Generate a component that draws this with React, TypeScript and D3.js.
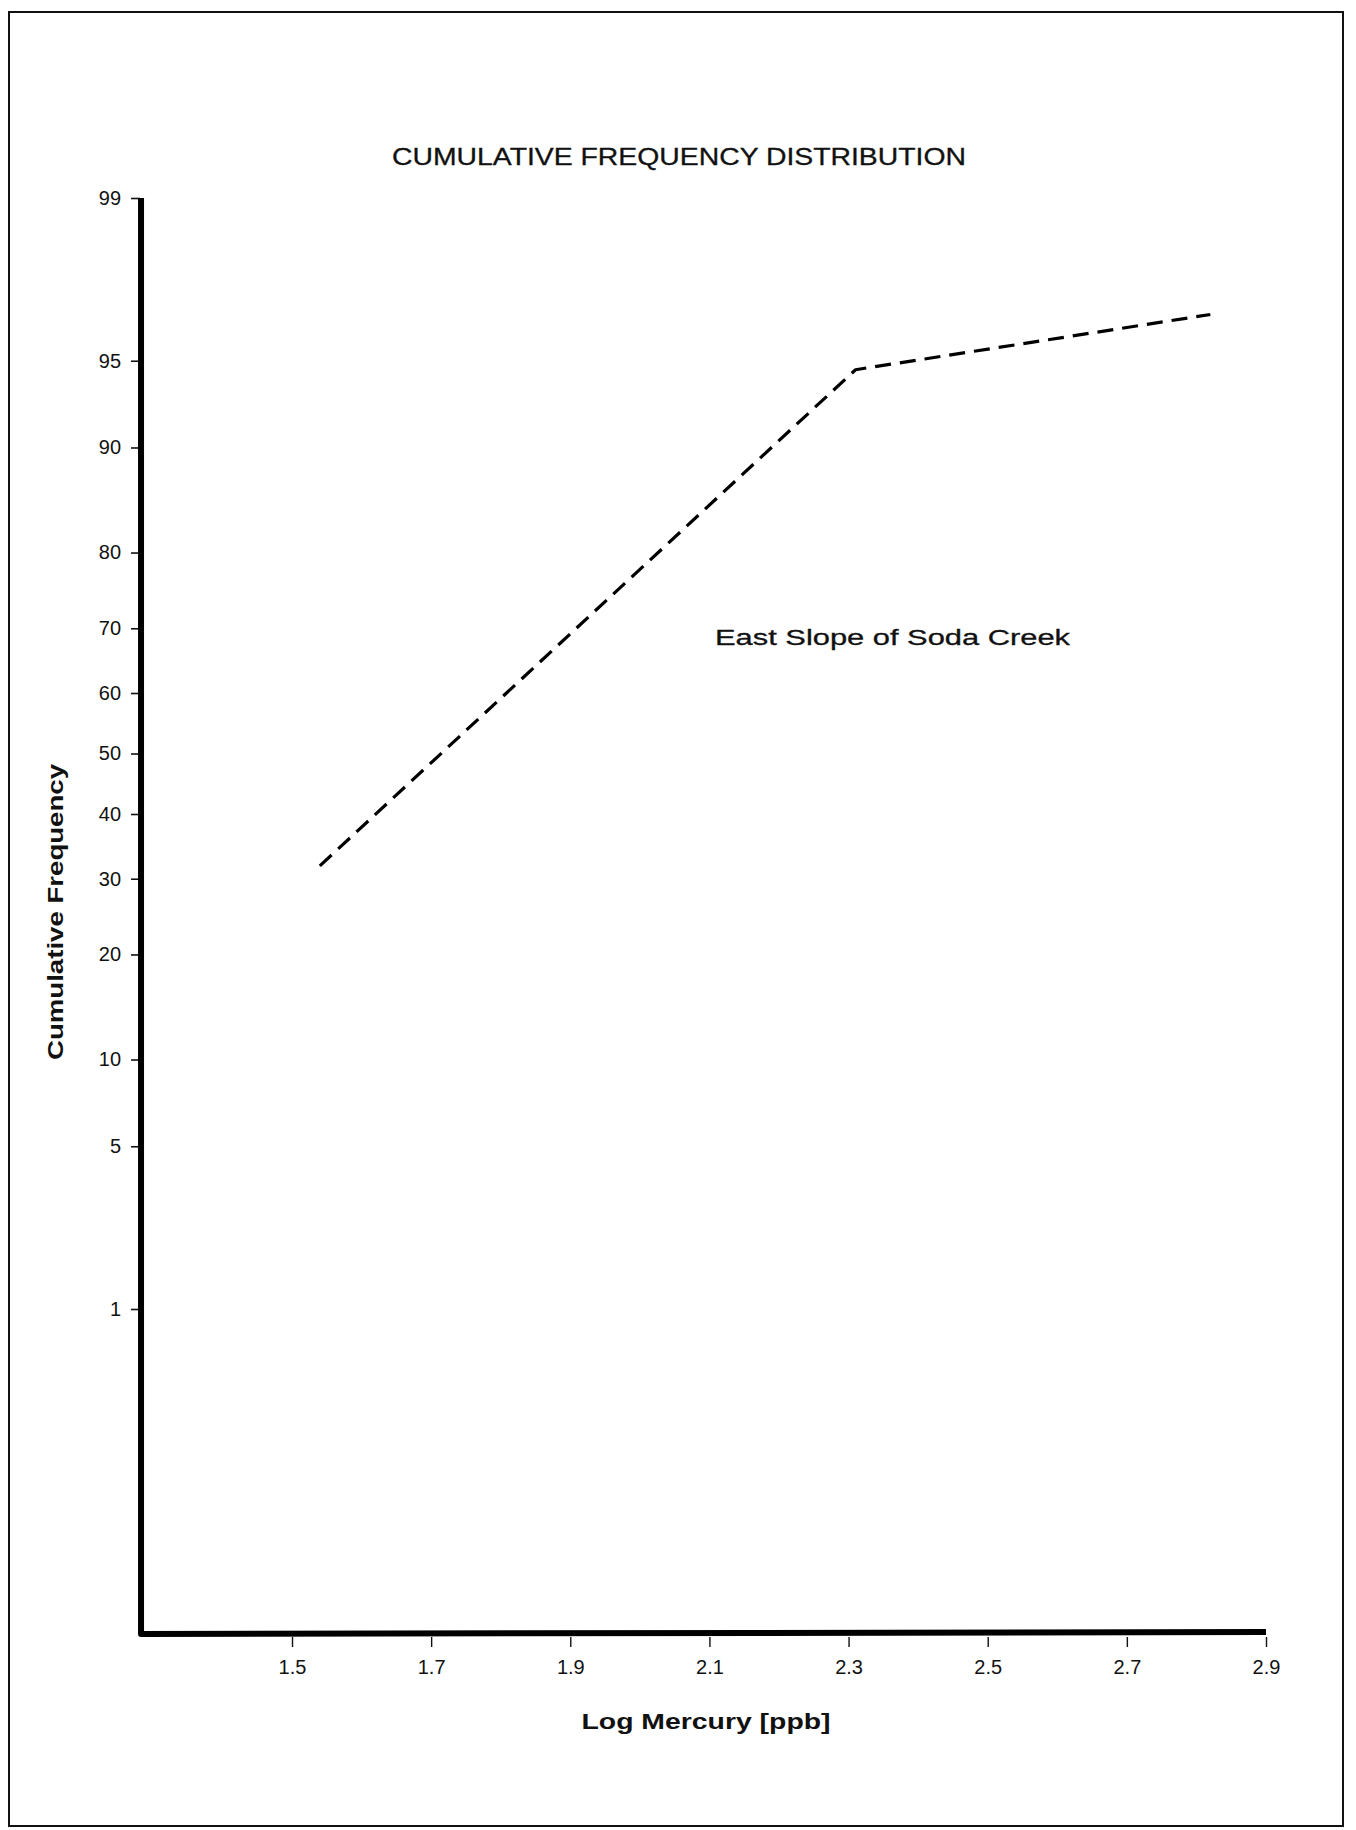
import React, { useRef, useEffect } from "react";
import * as d3 from "d3";

// chart values
const xTicks = [1.5, 1.7, 1.9, 2.1, 2.3, 2.5, 2.7, 2.9];
const yTicks = [1, 5, 10, 20, 30, 40, 50, 60, 70, 80, 90, 95, 99];
const logMercury = [1.54, 2.31, 2.82];
const cumFreq = [31.9, 94.6, 96.7];
const xAxisStart = 1.283;

const title = "CUMULATIVE  FREQUENCY  DISTRIBUTION";
const xLabel = "Log  Mercury  [ppb]";
const yLabel = "Cumulative  Frequency";
const seriesLabel = "East  Slope  of  Soda  Creek";

const W = 1356;
const H = 1830;
const font = "'Liberation Sans', Arial, Helvetica, sans-serif";

// inverse normal CDF (Acklam) for the probability axis
function probit(p: number): number {
	const a = [-39.69683028665376, 220.9460984245205, -275.9285104469687, 138.357751867269, -30.66479806614716, 2.506628277459239];
	const b = [-54.47609879822406, 161.5858368580409, -155.6989798598866, 66.80131188771972, -13.28068155288572];
	const c = [-0.007784894002430293, -0.3223964580411365, -2.400758277161838, -2.549732539343734, 4.374664141464968, 2.938163982698783];
	const d = [0.007784695709041462, 0.3224671290700398, 2.445134137142996, 3.754408661907416];
	const pl = 0.02425;
	let q, r;
	if (p < pl) {
		q = Math.sqrt(-2 * Math.log(p));
		return (((((c[0] * q + c[1]) * q + c[2]) * q + c[3]) * q + c[4]) * q + c[5]) / ((((d[0] * q + d[1]) * q + d[2]) * q + d[3]) * q + 1);
	}
	if (p > 1 - pl) {
		q = Math.sqrt(-2 * Math.log(1 - p));
		return -(((((c[0] * q + c[1]) * q + c[2]) * q + c[3]) * q + c[4]) * q + c[5]) / ((((d[0] * q + d[1]) * q + d[2]) * q + d[3]) * q + 1);
	}
	q = p - 0.5;
	r = q * q;
	return ((((((a[0] * r + a[1]) * r + a[2]) * r + a[3]) * r + a[4]) * r + a[5]) * q) / (((((b[0] * r + b[1]) * r + b[2]) * r + b[3]) * r + b[4]) * r + 1);
}

const App = () => {
	const svgRef = useRef<SVGSVGElement>(null);

	const x = d3.scaleLinear().domain([1.5, 2.9]).range([292, 1266]);
	const yz = d3.scaleLinear().domain([probit(0.01), probit(0.99)]).range([1309, 198]);
	const y = (p: number) => yz(probit(p / 100));

	const axisX = x(xAxisStart);
	const axisY = 1634;
	const top = y(99);

	const data = logMercury.map((v, i) => [v, cumFreq[i]] as [number, number]);
	const line = d3.line<[number, number]>()
		.x(d => x(d[0]))
		.y(d => y(d[1]));

	useEffect(() => {
		const svg = d3.select(svgRef.current);

		// y axis on probability scale
		const yAxis = d3.axisLeft(yz)
			.tickValues(yTicks.map(p => probit(p / 100)))
			.tickFormat((_, i) => String(yTicks[i]))
			.tickSize(9)
			.tickPadding(10);
		const gy = svg.select<SVGGElement>("g.y_axis");
		gy.call(yAxis);
		gy.select(".domain").remove();
		gy.selectAll("line").attr("stroke", "#111").attr("stroke-width", 1.6);
		gy.selectAll("text")
			.attr("font-family", font)
			.attr("font-size", 20)
			.attr("fill", "#111");

		// x axis
		const xAxis = d3.axisBottom(x)
			.tickValues(xTicks)
			.tickFormat(d3.format(".1f"))
			.tickSize(10)
			.tickPadding(13);
		const gx = svg.select<SVGGElement>("g.x_axis");
		gx.call(xAxis);
		gx.select(".domain").remove();
		gx.selectAll("line").attr("stroke", "#111").attr("stroke-width", 1.4);
		gx.selectAll("text")
			.attr("font-family", font)
			.attr("font-size", 20)
			.attr("fill", "#111");
	});

	return (
		<svg ref={svgRef} width={W} height={H}
			style={{ position: "absolute", left: 0, top: 0, background: "#fff" }}>
			<rect x={0} y={0} width={W} height={H} fill="#fff" />
			{/* page frame */}
			<rect x={9} y={12} width={1334} height={1814} fill="none" stroke="#111" strokeWidth={2} />

			<text x={679} y={165} textAnchor="middle" fontFamily={font} fontSize={24}
				textLength={574} lengthAdjust="spacingAndGlyphs" fill="#111" stroke="#111"
				strokeWidth={0.3}>{title}</text>

			<g className="y_axis" transform={`translate(${axisX - 1},0)`} />
			<g className="x_axis" transform={`translate(0,${axisY + 3})`} />

			{/* heavy axis lines */}
			<path d={`M${axisX},${top} L${axisX},${axisY} L${x(2.9)},${axisY - 2}`}
				fill="none" stroke="#000" strokeWidth={6} strokeLinejoin="round" />

			<path d={line(data) || ""} fill="none" stroke="#000" strokeWidth={3.2}
				strokeDasharray="16 9" strokeLinejoin="round" />

			<text x={715} y={645} fontFamily={font} fontSize={22} textLength={355}
				lengthAdjust="spacingAndGlyphs" fill="#111" stroke="#111" strokeWidth={0.3}>{seriesLabel}</text>

			<text transform="translate(63,912) rotate(-90)" textAnchor="middle" fontFamily={font}
				fontSize={22} fontWeight="bold" textLength={296} lengthAdjust="spacingAndGlyphs"
				fill="#111">{yLabel}</text>

			<text x={706} y={1729} textAnchor="middle" fontFamily={font} fontSize={22}
				fontWeight="bold" textLength={249} lengthAdjust="spacingAndGlyphs" fill="#111">{xLabel}</text>
		</svg>
	);
};

export default App;
